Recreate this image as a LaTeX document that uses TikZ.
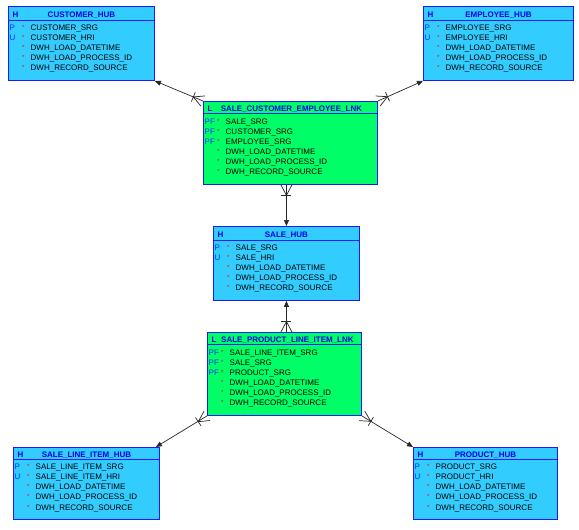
\documentclass[tikz,border=0pt]{standalone}
\usepackage{fontspec}
\setmainfont{Liberation Sans}
\usetikzlibrary{calc,arrows.meta}
\definecolor{hubfill}{RGB}{51,204,255}
\definecolor{lnkfill}{RGB}{0,255,102}
\definecolor{eborder}{RGB}{26,26,255}
\definecolor{titleblue}{RGB}{0,0,230}
\definecolor{keyblue}{RGB}{0,51,255}
\definecolor{starred}{RGB}{255,0,0}
\definecolor{connc}{RGB}{40,40,40}
\tikzset{
  entbox/.style={draw=eborder, line width=0.9pt, rectangle, inner sep=0pt},
  hub/.style={entbox, fill=hubfill},
  lnk/.style={entbox, fill=lnkfill},
  hline/.style={draw=eborder, line width=0.9pt},
  etitle/.style={font=\fontsize{8}{9}\selectfont\bfseries, text=titleblue, inner sep=0pt},
  etag/.style={font=\fontsize{8}{9}\selectfont\bfseries, text=titleblue, inner sep=0pt},
  ekey/.style={font=\fontsize{8}{9}\selectfont, text=keyblue, inner sep=0pt},
  estar/.style={font=\fontsize{6}{7}\selectfont, text=starred, inner sep=0pt},
  eattr/.style={font=\fontsize{8}{9}\selectfont, text=black, inner sep=0pt},
  conn/.style={draw=connc, line width=0.7pt},
  connarrow/.style={conn, -{Triangle[length=6pt,width=5pt]}},
}
\def\rowbase{22.8}
% #1 name, #2 x, #3 y, #4 w, #5 h, #6 style, #7 tag, #8 title, #9 header height
\newcommand\entity[9]{%
  \node[#6, minimum width=#4pt, minimum height=#5pt, anchor=north west] (#1) at (#2,#3) {};
  \draw[hline] ([yshift=-#9pt]#1.north west) -- ([yshift=-#9pt]#1.north east);
  \node[etag, anchor=base west] (#1-tag) at ([xshift=4.5pt, yshift={-(#9/2+4.2)*1pt}]#1.north west) {#7};
  \node[etitle, anchor=base] (#1-title) at ([yshift={-(#9/2+4.2)*1pt}]#1.north) {#8};
}
% #1 entity, #2 row index, #3 key, #4 attribute
\newcommand\erow[4]{%
  \def\ekeytext{#3}%
  \ifx\ekeytext\empty\else
  \node[ekey, anchor=base west] (#1-k#2) at ([xshift=1.5pt, yshift={-(\rowbase+10.1*#2)*1pt}]#1.north west) {#3};
  \fi
  \node[estar, anchor=base west] (#1-s#2) at ([xshift=14pt, yshift={-(\rowbase-1+10.1*#2)*1pt}]#1.north west) {*};
  \node[eattr, anchor=base west] (#1-a#2) at ([xshift=22.5pt, yshift={-(\rowbase+10.1*#2)*1pt}]#1.north west) {#4};
}
% crow's foot at #1 (box side), line toward #2
\newcommand\crow[2]{%
  \coordinate (cfp) at ($(#1)!10.5pt!(#2)$);
  \draw[conn] ($(#1)!5.5pt!90:(#2)$) -- (cfp) -- ($(#1)!5.5pt!-90:(#2)$);
  \draw[conn] ($(cfp)!5pt!90:(#2)$) -- ($(cfp)!5pt!-90:(#2)$);
}
\begin{document}
\begin{tikzpicture}[x=1pt,y=-1pt]
\fill[white] (0,0) rectangle (579,530);
\useasboundingbox (0,0) rectangle (579,530);

\def\rowbase{24.2}
\entity{cust}{8}{6}{146}{74}{hub}{H}{CUSTOMER\_HUB}{14}
\erow{cust}{0}{P}{CUSTOMER\_SRG}
\erow{cust}{1}{U}{CUSTOMER\_HRI}
\erow{cust}{2}{}{DWH\_LOAD\_DATETIME}
\erow{cust}{3}{}{DWH\_LOAD\_PROCESS\_ID}
\erow{cust}{4}{}{DWH\_RECORD\_SOURCE}

\entity{emp}{423}{6}{150}{74}{hub}{H}{EMPLOYEE\_HUB}{14}
\erow{emp}{0}{P}{EMPLOYEE\_SRG}
\erow{emp}{1}{U}{EMPLOYEE\_HRI}
\erow{emp}{2}{}{DWH\_LOAD\_DATETIME}
\erow{emp}{3}{}{DWH\_LOAD\_PROCESS\_ID}
\erow{emp}{4}{}{DWH\_RECORD\_SOURCE}

\entity{sale}{213}{226}{146}{74}{hub}{H}{SALE\_HUB}{14}
\erow{sale}{0}{P}{SALE\_SRG}
\erow{sale}{1}{U}{SALE\_HRI}
\erow{sale}{2}{}{DWH\_LOAD\_DATETIME}
\erow{sale}{3}{}{DWH\_LOAD\_PROCESS\_ID}
\erow{sale}{4}{}{DWH\_RECORD\_SOURCE}

\def\rowbase{23.4}
\entity{lnka}{203}{101}{174}{83}{lnk}{L}{\hspace*{2pt}SALE\_CUSTOMER\_EMPLOYEE\_LNK}{12}
\erow{lnka}{0}{PF}{SALE\_SRG}
\erow{lnka}{1}{PF}{CUSTOMER\_SRG}
\erow{lnka}{2}{PF}{EMPLOYEE\_SRG}
\erow{lnka}{3}{}{DWH\_LOAD\_DATETIME}
\erow{lnka}{4}{}{DWH\_LOAD\_PROCESS\_ID}
\erow{lnka}{5}{}{DWH\_RECORD\_SOURCE}

\entity{lnkb}{207}{332}{154}{83}{lnk}{L}{\hspace*{6pt}SALE\_PRODUCT\_LINE\_ITEM\_LNK}{12}
\erow{lnkb}{0}{PF}{SALE\_LINE\_ITEM\_SRG}
\erow{lnkb}{1}{PF}{SALE\_SRG}
\erow{lnkb}{2}{PF}{PRODUCT\_SRG}
\erow{lnkb}{3}{}{DWH\_LOAD\_DATETIME}
\erow{lnkb}{4}{}{DWH\_LOAD\_PROCESS\_ID}
\erow{lnkb}{5}{}{DWH\_RECORD\_SOURCE}

\def\rowbase{22.6}
\entity{sli}{13}{447}{146}{72}{hub}{H}{SALE\_LINE\_ITEM\_HUB}{12.5}
\erow{sli}{0}{P}{SALE\_LINE\_ITEM\_SRG}
\erow{sli}{1}{U}{SALE\_LINE\_ITEM\_HRI}
\erow{sli}{2}{}{DWH\_LOAD\_DATETIME}
\erow{sli}{3}{}{DWH\_LOAD\_PROCESS\_ID}
\erow{sli}{4}{}{DWH\_RECORD\_SOURCE}

\entity{prod}{413}{447}{144}{72}{hub}{H}{PRODUCT\_HUB}{12.5}
\erow{prod}{0}{P}{PRODUCT\_SRG}
\erow{prod}{1}{U}{PRODUCT\_HRI}
\erow{prod}{2}{}{DWH\_LOAD\_DATETIME}
\erow{prod}{3}{}{DWH\_LOAD\_PROCESS\_ID}
\erow{prod}{4}{}{DWH\_RECORD\_SOURCE}

% connectors
\draw[connarrow] (lnka.north west) -- (cust.south east);
\crow{lnka.north west}{cust.south east}
\draw[connarrow] (lnka.north east) -- (emp.south west);
\crow{lnka.north east}{emp.south west}
\draw[connarrow] (sale.north |- lnka.south) -- (sale.north);
\crow{sale.north |- lnka.south}{sale.north}
\draw[connarrow] (sale.south |- lnkb.north) -- (sale.south);
\crow{sale.south |- lnkb.north}{sale.south}
\draw[connarrow] (lnkb.south west) -- ([xshift=-4pt]sli.north east);
\crow{lnkb.south west}{sli.north east}
\draw[connarrow] (lnkb.south east) -- (prod.north west);
\crow{lnkb.south east}{prod.north west}
\end{tikzpicture}
\end{document}
